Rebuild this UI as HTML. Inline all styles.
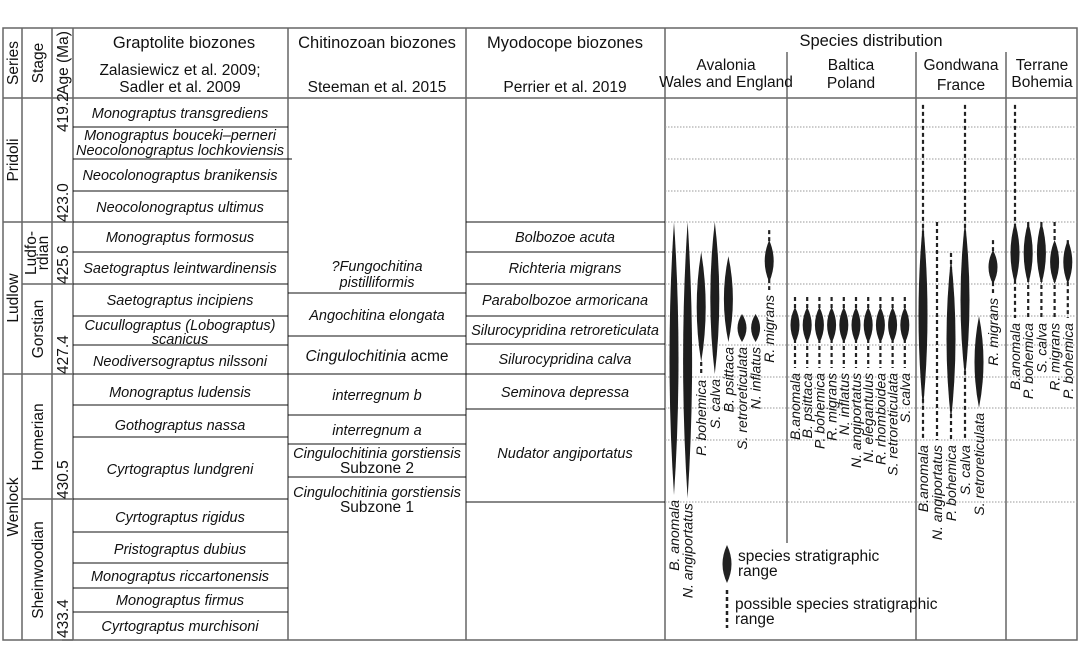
<!DOCTYPE html>
<html><head><meta charset="utf-8">
<style>
html,body{margin:0;padding:0;background:#fff;}
svg{display:block;font-family:"Liberation Sans",Arial,sans-serif;}
.h{font-size:16.5px;fill:#111;}
.s{font-size:15.5px;fill:#111;}
.z{font-size:14.5px;font-style:italic;fill:#111;}
.lab{font-size:14px;font-style:italic;fill:#111;}
</style></head>
<body>
<svg id="chart" width="1081" height="645" viewBox="0 0 1081 645">
<g id="frame" stroke="#666" stroke-width="1.5" fill="none">
  <rect x="3" y="28" width="1074" height="612"/>
  <line x1="3" y1="98" x2="1077" y2="98"/>
  <line x1="22" y1="28" x2="22" y2="640"/>
  <line x1="52" y1="28" x2="52" y2="640"/>
  <line x1="73" y1="28" x2="73" y2="640"/>
  <line x1="288" y1="28" x2="288" y2="640"/>
  <line x1="466" y1="28" x2="466" y2="640"/>
  <line x1="665" y1="28" x2="665" y2="640"/>
  <line x1="787" y1="52" x2="787" y2="543"/>
  <line x1="916" y1="52" x2="916" y2="640"/>
  <line x1="1006" y1="52" x2="1006" y2="640"/>
  <line x1="3" y1="222" x2="73" y2="222"/>
  <line x1="3" y1="374" x2="73" y2="374"/>
  <line x1="22" y1="284" x2="73" y2="284"/>
  <line x1="22" y1="499" x2="73" y2="499"/>
  <line x1="62" y1="640" x2="73" y2="640"/>
</g>
<g stroke="#111" stroke-width="1">
  <line x1="73" y1="127" x2="288" y2="127"/>
  <line x1="73" y1="159" x2="292" y2="159"/>
  <line x1="73" y1="191" x2="288" y2="191"/>
  <line x1="73" y1="222" x2="288" y2="222"/>
  <line x1="73" y1="252" x2="288" y2="252"/>
  <line x1="73" y1="284" x2="288" y2="284"/>
  <line x1="73" y1="316" x2="288" y2="316"/>
  <line x1="73" y1="345" x2="288" y2="345"/>
  <line x1="73" y1="374" x2="288" y2="374"/>
  <line x1="73" y1="405" x2="288" y2="405"/>
  <line x1="73" y1="437" x2="288" y2="437"/>
  <line x1="73" y1="499" x2="288" y2="499"/>
  <line x1="73" y1="532" x2="288" y2="532"/>
  <line x1="73" y1="563" x2="288" y2="563"/>
  <line x1="73" y1="588" x2="288" y2="588"/>
  <line x1="73" y1="612" x2="288" y2="612"/>
  <line x1="288" y1="293" x2="466" y2="293"/>
  <line x1="288" y1="336" x2="466" y2="336"/>
  <line x1="288" y1="374" x2="466" y2="374"/>
  <line x1="288" y1="415" x2="466" y2="415"/>
  <line x1="288" y1="444" x2="466" y2="444"/>
  <line x1="288" y1="477" x2="466" y2="477"/>
  <line x1="466" y1="222" x2="665" y2="222"/>
  <line x1="466" y1="252" x2="665" y2="252"/>
  <line x1="466" y1="284" x2="665" y2="284"/>
  <line x1="466" y1="316" x2="665" y2="316"/>
  <line x1="466" y1="344" x2="665" y2="344"/>
  <line x1="466" y1="374" x2="665" y2="374"/>
  <line x1="466" y1="409" x2="665" y2="409"/>
  <line x1="466" y1="502" x2="665" y2="502"/>
</g>
<g stroke="#999" stroke-width="1" stroke-dasharray="1.5,1.5">
  <line x1="665" y1="127" x2="1077" y2="127"/>
  <line x1="665" y1="159" x2="1077" y2="159"/>
  <line x1="665" y1="191" x2="1077" y2="191"/>
  <line x1="665" y1="222" x2="1077" y2="222"/>
  <line x1="665" y1="252" x2="1077" y2="252"/>
  <line x1="665" y1="284" x2="1077" y2="284"/>
  <line x1="665" y1="316" x2="1077" y2="316"/>
  <line x1="665" y1="345" x2="1077" y2="345"/>
  <line x1="665" y1="377" x2="1077" y2="377"/>
  <line x1="665" y1="408" x2="1077" y2="408"/>
  <line x1="665" y1="440" x2="1077" y2="440"/>
  <line x1="665" y1="502" x2="1077" y2="502"/>
</g>

<g>
  <text class="s" transform="translate(18,63) rotate(-90)" text-anchor="middle">Series</text>
  <text class="s" transform="translate(43,63) rotate(-90)" text-anchor="middle">Stage</text>
  <text class="s" transform="translate(68,63) rotate(-90)" text-anchor="middle">Age (Ma)</text>
  <text class="h" x="184" y="48" text-anchor="middle">Graptolite biozones</text>
  <text class="s" x="180" y="75" text-anchor="middle">Zalasiewicz et al. 2009;</text>
  <text class="s" x="180" y="92" text-anchor="middle">Sadler et al. 2009</text>
  <text class="h" x="377" y="48" text-anchor="middle">Chitinozoan biozones</text>
  <text class="s" x="377" y="92" text-anchor="middle">Steeman et al. 2015</text>
  <text class="h" x="565" y="48" text-anchor="middle">Myodocope biozones</text>
  <text class="s" x="565" y="92" text-anchor="middle">Perrier et al. 2019</text>
  <text class="h" x="871" y="46" text-anchor="middle">Species distribution</text>
  <text class="s" x="726" y="70" text-anchor="middle">Avalonia</text>
  <text class="s" x="726" y="87" text-anchor="middle">Wales and England</text>
  <text class="s" x="851" y="70" text-anchor="middle">Baltica</text>
  <text class="s" x="851" y="88" text-anchor="middle">Poland</text>
  <text class="s" x="961" y="70" text-anchor="middle">Gondwana</text>
  <text class="s" x="961" y="90" text-anchor="middle">France</text>
  <text class="s" x="1042" y="70" text-anchor="middle">Terrane</text>
  <text class="s" x="1042" y="87" text-anchor="middle">Bohemia</text>
</g>

<g>
  <text class="s" transform="translate(18,160) rotate(-90)" text-anchor="middle">Pridoli</text>
  <text class="s" transform="translate(18,298) rotate(-90)" text-anchor="middle">Ludlow</text>
  <text class="s" transform="translate(18,507) rotate(-90)" text-anchor="middle">Wenlock</text>
  <text class="s" transform="translate(36,253) rotate(-90)" text-anchor="middle">Ludfo-</text>
  <text class="s" transform="translate(48,253) rotate(-90)" text-anchor="middle">rdian</text>
  <text class="s" transform="translate(43,329) rotate(-90)" text-anchor="middle">Gorstian</text>
  <text class="s" transform="translate(43,437) rotate(-90)" text-anchor="middle">Homerian</text>
  <text class="s" transform="translate(43,570) rotate(-90)" text-anchor="middle">Sheinwoodian</text>
</g>
<g>
  <text class="s" transform="translate(68,132) rotate(-90)">419.2</text>
  <text class="s" transform="translate(68,222) rotate(-90)">423.0</text>
  <text class="s" transform="translate(68,284) rotate(-90)">425.6</text>
  <text class="s" transform="translate(68,374) rotate(-90)">427.4</text>
  <text class="s" transform="translate(68,499) rotate(-90)">430.5</text>
  <text class="s" transform="translate(68,638) rotate(-90)">433.4</text>
</g>

<g text-anchor="middle">
  <text class="z" x="180" y="118">Monograptus transgrediens</text>
  <text class="z" x="180" y="140">Monograptus bouceki–perneri</text>
  <text class="z" x="180" y="155">Neocolonograptus lochkoviensis</text>
  <text class="z" x="180" y="180">Neocolonograptus branikensis</text>
  <text class="z" x="180" y="212">Neocolonograptus ultimus</text>
  <text class="z" x="180" y="242">Monograptus formosus</text>
  <text class="z" x="180" y="273">Saetograptus leintwardinensis</text>
  <text class="z" x="180" y="305">Saetograptus incipiens</text>
  <text class="z" x="180" y="330">Cucullograptus (Lobograptus)</text>
  <text class="z" x="180" y="344">scanicus</text>
  <text class="z" x="180" y="366">Neodiversograptus nilssoni</text>
  <text class="z" x="180" y="397">Monograptus ludensis</text>
  <text class="z" x="180" y="430">Gothograptus nassa</text>
  <text class="z" x="180" y="474">Cyrtograptus lundgreni</text>
  <text class="z" x="180" y="522">Cyrtograptus rigidus</text>
  <text class="z" x="180" y="554">Pristograptus dubius</text>
  <text class="z" x="180" y="581">Monograptus riccartonensis</text>
  <text class="z" x="180" y="605">Monograptus firmus</text>
  <text class="z" x="180" y="631">Cyrtograptus murchisoni</text>
</g>
<g text-anchor="middle">
  <text class="z" x="377" y="271">?Fungochitina</text>
  <text class="z" x="377" y="287">pistilliformis</text>
  <text class="z" x="377" y="320">Angochitina elongata</text>
  <text class="s" x="377" y="361"><tspan font-style="italic">Cingulochitinia</tspan> acme</text>
  <text class="z" x="377" y="400">interregnum b</text>
  <text class="z" x="377" y="435">interregnum a</text>
  <text class="z" x="377" y="458">Cingulochitinia gorstiensis</text>
  <text class="s" x="377" y="473">Subzone 2</text>
  <text class="z" x="377" y="497">Cingulochitinia gorstiensis</text>
  <text class="s" x="377" y="512">Subzone 1</text>
</g>
<g text-anchor="middle">
  <text class="z" x="565" y="242">Bolbozoe acuta</text>
  <text class="z" x="565" y="273">Richteria migrans</text>
  <text class="z" x="565" y="305">Parabolbozoe armoricana</text>
  <text class="z" x="565" y="335">Silurocypridina retroreticulata</text>
  <text class="z" x="565" y="364">Silurocypridina calva</text>
  <text class="z" x="565" y="397">Seminova depressa</text>
  <text class="z" x="565" y="458">Nudator angiportatus</text>
</g>

<g>
  <path d="M727,545 Q736,564 727,583 Q718,564 727,545Z" fill="#222"/>
  <text class="s" x="738" y="561">species stratigraphic</text>
  <text class="s" x="738" y="576">range</text>
  <line x1="727" y1="590" x2="727" y2="628" stroke="#222" stroke-width="2.5" stroke-dasharray="4,3"/>
  <text class="s" x="735" y="609">possible species stratigraphic</text>
  <text class="s" x="735" y="624">range</text>
</g>
<g id="species"></g>
</svg>
<script>
const ageTicks = [419.2, 423.0, 425.6, 427.4, 430.5, 433.4];
const regions = ["Avalonia", "Baltica", "Gondwana", "Bohemia"];
const spRegion = [0,0,0,0,0,0,0,0, 1,1,1,1,1,1,1,1,1,1, 2,2,2,2,2,2, 3,3,3,3,3];
const spName = ["B. anomala","N. angiportatus","P. bohemica","S. calva","B. psittaca","S. retroreticulata","N. inflatus","R. migrans",
 "B.anomala","B. psittaca","P. bohemica","R. migrans","N. inflatus","N. angiportatus","N. elegantulus","R. rhomboidea","S. retroreticulata","S. calva",
 "B.anomala","N. angiportatus","P. bohemica","S. calva","S. retroreticulata","R. migrans",
 "B.anomala","P. bohemica","S. calva","R. migrans","P. bohemica"];
const solidTop = [423.0,423.0,424.26,423.0,424.43,426.2,426.2,423.76, 426.06,426.06,426.06,426.06,426.06,426.06,426.06,426.06,426.06,426.06, 423.0,null,424.51,423.0,426.24,424.18, 423.0,423.0,423.0,423.76,423.76];
const solidBot = [430.4,430.48,427.16,427.4,426.76,426.76,426.76,425.52, 426.78,426.78,426.78,426.78,426.78,426.78,426.78,426.78,426.78,426.78, 428.24,null,428.54,427.5,428.24,425.6, 425.6,425.6,425.6,425.6,425.6];
const dashTop = [null,null,427.16,null,null,null,null,423.34, 425.86,425.86,425.86,425.86,425.86,425.86,425.86,425.86,425.86,425.86, 419.41,423.0,424.3,419.41,null,423.76, 419.41,423.0,423.0,423.0,423.76];
const dashBot = [430.52,null,427.42,null,null,null,null,425.72, 427.28,427.28,427.28,427.28,427.28,427.28,427.28,427.28,427.28,427.28, 429.04,429.04,429.04,429.04,null,425.78, 426.28,426.28,426.28,426.28,426.28];

const tickY = [98, 222, 284, 374, 499, 636];
function yScale(a){
  for(let i=0;i<ageTicks.length-1;i++){
    if(a<=ageTicks[i+1]||i===ageTicks.length-2){
      const t=(a-ageTicks[i])/(ageTicks[i+1]-ageTicks[i]);
      return tickY[i]+t*(tickY[i+1]-tickY[i]);
    }
  }
}
const regionLeft=[665,787,916,1006], regionOff=[9,8,7,9], regionStep=[13.6,12.2,14,13.2];
function xScale(r, idx){ return regionLeft[r]+regionOff[r]+idx*regionStep[r]; }

const NS="http://www.w3.org/2000/svg";
const g=document.getElementById("species");
const counters=[0,0,0,0];
for(let i=0;i<spName.length;i++){
  const r=spRegion[i]; const x=xScale(r,counters[r]++);
  let lowest=-1;
  if(dashTop[i]!==null&&dashBot[i]!==null){
    const l=document.createElementNS(NS,"line");
    l.setAttribute("x1",x);l.setAttribute("x2",x);
    l.setAttribute("y1",yScale(dashTop[i]));l.setAttribute("y2",yScale(dashBot[i]));
    l.setAttribute("stroke","#222");l.setAttribute("stroke-width","2.2");l.setAttribute("stroke-dasharray","4,3");
    
    
    g.appendChild(l); lowest=Math.max(lowest,yScale(dashBot[i]));
  }
  if(solidTop[i]!==null){
    const t=yScale(solidTop[i]), b=yScale(solidBot[i]), m=(t+b)/2;
    const p=document.createElementNS(NS,"path");
    p.setAttribute("d",`M${x},${t} Q${x+9},${m} ${x},${b} Q${x-9},${m} ${x},${t}Z`);
    p.setAttribute("fill","#1e1e1e");
    
    
    g.appendChild(p); lowest=Math.max(lowest,b);
  }
  const tx=document.createElementNS(NS,"text");
  const ly=lowest+5;
  tx.setAttribute("transform",`translate(${x+5},${ly}) rotate(-90)`);
  tx.setAttribute("text-anchor","end");
  tx.setAttribute("class","lab");
  tx.textContent=spName[i];
  
  
  g.appendChild(tx);
}
</script>
</body></html>
